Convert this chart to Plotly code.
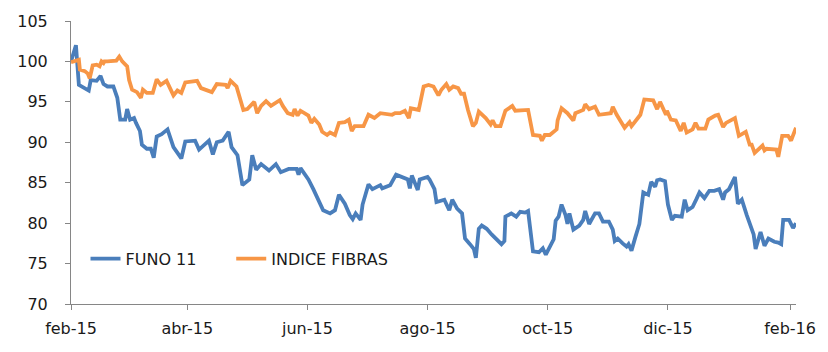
import pandas as pd
import plotly.graph_objects as go

START = "2015-02-01"

# FUNO 11: day offset from 2015-02-01 and index value
funo_days = [0, 2.5, 4, 6.5, 9, 10, 13, 15, 16.5, 18.5, 21.5, 23.5, 25, 27.5, 28.5, 30, 32, 33, 35, 36,
             38.5, 40.5, 42, 43.5, 46, 49, 52, 56, 58, 63, 65, 70, 72, 74, 77, 80, 81.5, 84.5, 87, 90.5,
             92, 94, 96.5, 100.5, 104, 106.5, 110.5, 114.5, 115.5, 116.5, 120.5, 123, 125.5, 128, 131.5,
             134, 136, 139, 141.5, 143, 144.5, 147, 148, 151, 153, 157, 158, 162, 165, 168, 171, 172, 173,
             176, 177, 181, 182, 184.5, 185.5, 189.5, 192, 193.5, 196, 198.5, 200, 202.5, 204.5, 205.5,
             207, 208.5, 211, 213.5, 216, 218.5, 220, 220.5, 223.5, 226, 228, 230.5, 232, 233.5, 234.5,
             237.5, 239.5, 241, 242.5, 245, 246, 247.5, 249, 251, 252, 253, 255, 258, 260, 261, 263, 266,
             268, 270, 273, 275, 276, 277.5, 280, 282, 283, 284.5, 286.5, 288.5, 290.5, 293, 294.5, 296.5,
             297.5, 299, 301.5, 303, 305, 306.5, 310, 311.5, 313, 315.5, 317.5, 319, 321.5, 324, 326.5,
             329, 331, 332, 334, 337, 338.5, 340.5, 343, 345, 346.5, 347.5, 350, 352, 354, 357, 359, 360.5,
             361.5, 364.5, 366.5, 368]
funo_vals = [100.0, 102.0, 97.1, 96.7, 96.4, 97.7, 97.6, 98.2, 97.2, 96.9, 96.9, 95.5, 92.8, 92.8, 94.1,
             92.8, 93.0, 92.4, 91.4, 89.7, 89.2, 89.2, 88.1, 90.7, 91.0, 91.6, 89.4, 88.0, 90.1, 90.2, 89.1,
             90.2, 88.5, 90.0, 90.2, 91.3, 89.4, 88.4, 84.7, 85.4, 88.4, 86.6, 87.3, 86.5, 87.3, 86.3, 86.7,
             86.7, 86.0, 86.8, 85.4, 84.2, 83.0, 81.6, 81.2, 81.6, 83.5, 82.4, 81.0, 80.5, 81.2, 80.4, 82.3,
             84.8, 84.2, 84.7, 84.3, 84.7, 86.0, 85.7, 85.4, 84.3, 85.9, 84.1, 85.4, 85.7, 85.4, 84.2, 82.6,
             82.9, 81.6, 82.9, 81.8, 81.2, 78.1, 77.4, 76.8, 75.7, 79.3, 79.7, 79.3, 78.6, 78.0, 77.4, 77.8,
             80.8, 81.2, 80.8, 81.4, 81.3, 81.5, 78.9, 76.5, 76.4, 76.9, 76.1, 76.9, 78.0, 80.3, 80.8, 82.3,
             81.0, 79.9, 81.2, 79.2, 79.7, 80.4, 81.5, 79.9, 81.2, 81.2, 80.2, 80.2, 79.2, 77.8, 78.1, 77.5,
             77.1, 77.4, 76.6, 78.3, 79.9, 83.8, 83.5, 85.1, 84.5, 85.3, 85.4, 85.2, 82.3, 80.4, 80.9, 80.8,
             82.9, 81.6, 82.0, 83.0, 83.8, 83.1, 84.0, 84.0, 84.2, 82.9, 83.8, 84.2, 85.7, 82.4, 82.9, 81.0,
             79.8, 78.6, 76.8, 78.9, 77.2, 78.1, 77.7, 77.6, 77.4, 80.4, 80.4, 79.4, 80.0]

# INDICE FIBRAS
fibras_days = [0, 3, 4, 4.5, 7, 8.5, 9.5, 11, 13, 14.5, 15.5, 16.5, 17, 18.5, 21, 23, 24.5, 26, 28.5, 29.5,
               31, 33.5, 35.5, 36.5, 38.5, 41.5, 43.5, 45.5, 48.5, 52, 54, 56, 58, 64, 66, 69, 71.5, 74,
               78.5, 79.5, 81, 84, 87.5, 89.5, 93, 94.5, 96.5, 99, 101.5, 106, 107.5, 110, 112.5, 113.5, 115,
               116.5, 120.5, 122, 123.5, 126, 127.5, 130, 131.5, 134, 136, 139, 141, 142.5, 144, 148.5, 151,
               154, 157, 163, 164.5, 167, 169.5, 171.5, 172.5, 176.5, 179, 181.5, 184, 186.5, 188, 190.5, 192,
               194, 196.5, 198, 199.5, 201.5, 204, 205.5, 207, 210.5, 213, 214, 215.5, 218, 220.5, 224, 225.5,
               232, 234.5, 238, 239, 240.5, 243, 246.5, 247, 249, 252, 255, 256, 260, 261, 263, 266, 268, 274,
               275, 277, 281, 283.5, 284.5, 289, 291, 294.5, 295.5, 297.5, 299, 302, 302.5, 304.5, 307, 309.5,
               311, 312.5, 315.5, 317, 318.5, 322, 323.5, 327, 328.5, 331, 332.5, 337, 339, 342.5, 344.5,
               345.5, 347, 351, 352, 353, 356, 358, 359, 361, 364, 365.5, 368]
fibras_vals = [99.9, 100.1, 100.2, 99.0, 98.8, 98.5, 97.9, 99.5, 99.6, 99.4, 100.0, 99.8, 100.0, 100.0,
               100.1, 100.1, 100.6, 100.0, 99.4, 97.7, 96.5, 96.2, 95.5, 96.5, 96.1, 96.1, 97.8, 97.1, 97.6,
               95.8, 96.4, 96.1, 97.4, 97.6, 96.7, 96.4, 96.2, 97.2, 97.1, 96.7, 97.6, 96.9, 94.0, 94.1, 95.0,
               93.6, 94.5, 95.1, 94.5, 95.2, 94.5, 93.6, 93.4, 94.1, 93.3, 93.9, 93.3, 92.4, 92.9, 92.2, 91.3,
               90.9, 91.2, 90.9, 92.4, 92.5, 92.8, 91.4, 92.0, 92.0, 93.4, 93.0, 93.6, 93.4, 93.6, 93.6, 93.9,
               93.0, 94.2, 94.0, 96.9, 97.1, 96.9, 95.8, 96.5, 97.2, 96.5, 96.9, 96.7, 96.0, 96.0, 94.0, 92.0,
               92.4, 93.8, 93.0, 92.2, 92.7, 92.0, 92.0, 93.9, 94.5, 93.9, 94.0, 90.9, 90.8, 90.2, 90.9, 90.9,
               91.6, 92.7, 94.2, 93.6, 92.7, 93.6, 94.0, 94.7, 94.1, 94.4, 93.4, 93.6, 94.4, 93.4, 91.8, 92.5,
               92.0, 93.4, 95.3, 95.2, 95.2, 94.1, 95.0, 93.4, 93.9, 92.8, 92.7, 91.4, 92.4, 91.2, 91.6, 92.4,
               91.7, 91.7, 92.8, 93.3, 93.4, 91.9, 92.4, 93.0, 90.8, 91.3, 89.7, 89.7, 88.7, 89.6, 89.0, 89.2,
               89.1, 89.1, 88.2, 90.8, 90.8, 90.2, 91.8]

tick_dates = ["2015-02-01", "2015-04-01", "2015-06-01", "2015-08-01", "2015-10-01", "2015-12-01", "2016-02-01"]
tick_labels = ["feb-15", "abr-15", "jun-15", "ago-15", "oct-15", "dic-15", "feb-16"]
y_ticks = [70, 75, 80, 85, 90, 95, 100, 105]

start = pd.Timestamp(START)
def to_dates(days):
    return [start + pd.Timedelta(days=d) for d in days]

FONT = "DejaVu Sans"
FS = 16
fig = go.Figure()
fig.add_trace(go.Scatter(x=to_dates(funo_days), y=funo_vals, mode="lines", name="FUNO 11",
                         line=dict(color="#4A7EBB", width=3.8), legend="legend"))
fig.add_trace(go.Scatter(x=to_dates(fibras_days), y=fibras_vals, mode="lines", name="INDICE FIBRAS",
                         line=dict(color="#F79646", width=3.8), legend="legend2"))

legend_style = dict(orientation="h", y=0.16, xanchor="left", yanchor="middle",
                    bgcolor="rgba(0,0,0,0)", font=dict(family=FONT, size=FS, color="#1a1a1a"))
fig.update_layout(
    width=828, height=352,
    margin=dict(l=71, r=26, t=18, b=48),
    paper_bgcolor="white", plot_bgcolor="white",
    font=dict(family=FONT, size=FS, color="#1a1a1a"),
    showlegend=True,
    legend=dict(x=0.02, **legend_style),
    legend2=dict(x=0.221, **legend_style),
)
fig.update_xaxes(
    type="date",
    range=[start, start + pd.Timedelta(days=368)],
    tickvals=[pd.Timestamp(d) for d in tick_dates], ticktext=tick_labels,
    showgrid=False, zeroline=False,
    showline=True, linecolor="#868686", linewidth=1,
    ticks="outside", ticklen=5, tickcolor="#868686",
    ticklabelstandoff=5,
)
fig.update_yaxes(
    range=[70, 105], tickvals=y_ticks,
    showgrid=False, zeroline=False,
    showline=True, linecolor="#868686", linewidth=1,
    ticks="outside", ticklen=5, tickcolor="#868686",
    ticklabelstandoff=14,
)

fig.write_html("out.html")
